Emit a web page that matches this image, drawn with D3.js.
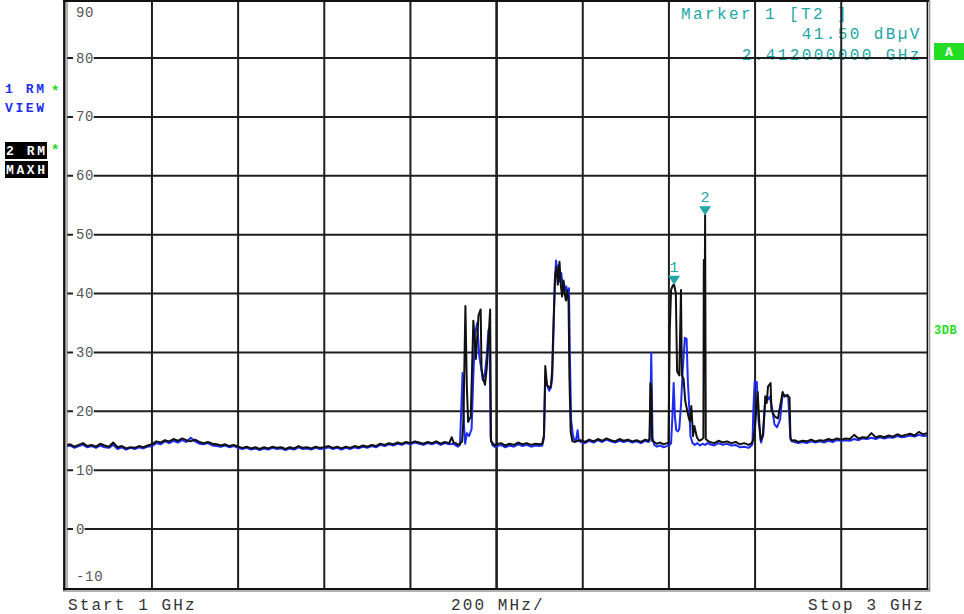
<!DOCTYPE html>
<html><head><meta charset="utf-8">
<script src="https://cdn.jsdelivr.net/npm/d3@7"></script>
<style>
html,body{margin:0;padding:0;background:#fff;}
svg{display:block;}
</style></head><body>
<svg id="chart" width="964" height="614"></svg>
<script>
// ---------- DATA ----------
const yTicks = [90, 80, 70, 60, 50, 40, 30, 20, 10, 0, -10];
const freqTicks = [1000, 1200, 1400, 1600, 1800, 2000, 2200, 2400, 2600, 2800, 3000];
const footerLabels = ["Start 1 GHz", "200 MHz/", "Stop 3 GHz"];
const markerInfo = ["Marker 1 [T2 ]", "41.50 dBµV", "2.412000000 GHz"];
const markers = [
  {id: "1", freq: 2412, level: 41.5},
  {id: "2", freq: 2484, level: 53.3}
];
// Trace 1 (RM, VIEW) – blue : [MHz, dBµV]
const trace1 = [
[1000,14.0],[1010,14.2],[1020,13.8],[1030,14.1],[1040,14.3],[1050,13.9],[1060,14.1],[1070,13.8],[1080,14.2],[1090,13.9],
[1100,13.8],[1110,14.3],[1120,13.6],[1130,13.9],[1140,13.5],[1150,13.8],[1160,13.6],[1170,13.9],[1180,13.7],[1190,14.0],
[1200,14.1],[1210,14.6],[1220,14.4],[1230,14.9],[1240,14.6],[1250,15.0],[1260,14.7],[1270,15.1],[1280,14.8],[1290,15.5],
[1300,14.9],[1310,14.5],[1320,14.4],[1330,14.6],[1340,14.2],[1350,14.1],[1360,14.0],[1370,14.2],[1380,13.9],[1390,14.1],
[1400,13.8],[1410,13.6],[1420,13.8],[1430,13.5],[1440,13.7],[1450,13.4],[1460,13.7],[1470,13.5],[1480,13.8],[1490,13.6],
[1500,13.7],[1510,13.4],[1520,13.7],[1530,13.5],[1540,13.9],[1550,13.6],[1560,13.7],[1570,13.5],[1580,13.8],[1590,13.6],
[1600,13.7],[1610,13.9],[1620,13.6],[1630,13.8],[1640,13.5],[1650,13.8],[1660,13.6],[1670,13.9],[1680,13.7],[1690,14.0],
[1700,13.8],[1710,14.1],[1720,13.9],[1730,14.3],[1740,14.1],[1750,14.4],[1760,14.2],[1770,14.5],[1780,14.3],[1790,14.6],
[1800,14.4],[1810,14.7],[1820,14.5],[1830,14.3],[1840,14.6],[1850,14.4],[1860,14.7],[1870,14.3],[1880,14.6],[1890,14.4],
[1900,14.5],[1905,14.2],[1910,14.0],[1915,14.3],[1918,20.5],[1921,26.5],[1924,18.0],[1927,14.5],[1931,16.3],[1936,15.8],
[1942,17.0],[1946,26.0],[1950,33.3],[1955,35.0],[1960,29.3],[1964,27.5],[1968,25.3],[1973,26.5],[1977,29.3],[1981,33.8],
[1984,30.0],[1986,15.6],[1990,14.3],[1995,14.0],
[2000,14.0],[2010,14.3],[2020,13.9],[2030,14.2],[2040,14.0],[2050,14.4],[2060,14.1],[2070,14.3],[2080,14.0],[2090,14.2],[2100,14.1],
[2106,14.2],[2110,15.5],[2113,25.8],[2117,24.5],[2122,23.5],[2126,24.0],[2129,25.5],[2132,33.0],[2135,42.0],[2138,45.6],
[2141,43.5],[2144,44.8],[2147,42.0],[2150,43.5],[2153,41.5],[2156,42.0],[2159,40.5],[2162,41.2],[2165,39.8],[2168,40.9],
[2170,30.0],[2173,18.5],[2177,16.0],[2181,15.0],[2185,15.3],[2188,16.8],[2191,15.0],
[2195,14.8],[2205,14.6],[2215,15.0],[2225,14.7],[2235,15.1],[2245,14.8],[2255,15.2],[2265,14.9],[2275,14.7],[2285,15.0],
[2295,14.8],[2305,15.0],[2315,14.7],[2325,14.9],[2335,14.6],[2345,15.0],[2352,14.8],
[2355,14.9],[2357,20.0],[2359,29.9],[2362,15.5],[2366,14.3],[2372,14.0],[2380,14.2],[2388,13.9],[2395,14.1],[2399,14.2],
[2402,14.3],[2405,14.6],[2408,19.0],[2411,24.8],[2414,19.0],[2417,16.8],[2421,16.6],[2424,17.0],[2428,21.0],[2432,27.0],
[2437,32.5],[2441,32.3],[2444,25.0],[2447,21.0],[2450,15.8],[2455,14.6],[2460,14.3],[2466,14.6],[2472,14.2],[2478,14.5],
[2484,14.3],[2490,14.6],
[2495,14.4],[2505,14.2],[2515,14.6],[2525,14.3],[2535,14.5],[2545,14.2],[2555,14.3],[2565,13.9],[2575,14.0],[2585,13.8],[2592,14.2],
[2594,14.5],[2596,20.3],[2599,25.0],[2604,25.0],[2608,18.5],[2614,14.7],[2619,16.0],[2624,22.5],[2630,22.0],[2634,22.5],
[2640,20.3],[2645,17.8],[2651,17.3],[2658,18.6],[2664,23.0],[2669,22.7],[2677,22.4],[2682,15.3],[2685,14.9],
[2692,14.8],[2700,14.6],[2710,14.8],[2720,14.6],[2730,14.9],[2740,14.7],[2750,14.9],[2760,14.7],[2770,15.0],[2780,14.8],
[2790,15.1],[2800,15.0],[2810,15.1],[2820,15.0],[2830,15.3],[2840,15.1],[2850,15.4],[2860,15.3],[2870,15.5],[2880,15.3],
[2890,15.6],[2900,15.4],[2910,15.6],[2920,15.5],[2930,15.8],[2940,15.6],[2950,15.7],[2960,15.9],[2970,15.7],[2980,16.0],
[2990,15.8],[3000,15.9]
];
// Trace 2 (RM, MAXH) – black : [MHz, dBµV]
const trace2 = [
[1000,14.2],[1010,14.4],[1020,14.0],[1030,14.3],[1040,14.6],[1050,14.1],[1060,14.3],[1070,14.0],[1080,14.5],[1090,14.2],
[1100,14.0],[1110,14.7],[1120,13.9],[1130,14.1],[1140,13.7],[1150,13.9],[1160,13.8],[1170,14.1],[1180,13.9],[1190,14.2],
[1200,14.4],[1210,14.9],[1220,14.7],[1230,15.1],[1240,14.9],[1250,15.3],[1260,15.0],[1270,15.4],[1280,15.1],[1290,14.9],
[1300,15.2],[1310,14.8],[1320,14.6],[1330,14.8],[1340,14.5],[1350,14.4],[1360,14.2],[1370,14.4],[1380,14.1],[1390,14.3],
[1400,14.0],[1410,13.8],[1420,14.0],[1430,13.7],[1440,13.9],[1450,13.6],[1460,13.9],[1470,13.7],[1480,14.0],[1490,13.8],
[1500,13.9],[1510,13.6],[1520,13.9],[1530,13.7],[1540,14.1],[1550,13.8],[1560,13.9],[1570,13.7],[1580,14.0],[1590,13.8],
[1600,13.9],[1610,14.1],[1620,13.8],[1630,14.0],[1640,13.7],[1650,14.0],[1660,13.8],[1670,14.1],[1680,13.9],[1690,14.2],
[1700,14.0],[1710,14.3],[1720,14.1],[1730,14.5],[1740,14.3],[1750,14.6],[1760,14.4],[1770,14.7],[1780,14.5],[1790,14.8],
[1800,14.6],[1810,14.9],[1820,14.7],[1830,14.5],[1840,14.8],[1850,14.6],[1860,14.9],[1870,14.5],[1880,14.8],[1890,14.6],
[1896,15.6],[1900,14.7],[1905,14.6],[1910,14.3],[1915,14.5],[1920,14.9],[1923,18.5],[1927.6,37.9],[1931,24.0],[1934,18.2],
[1940,19.1],[1943,27.0],[1946,35.4],[1952,28.9],[1958,36.3],[1963,37.3],[1965,27.2],[1969,25.5],[1973,24.5],[1977,27.2],
[1981,32.0],[1985,37.3],[1987,14.9],[1991,14.6],[1996,14.2],
[2000,14.4],[2010,14.6],[2020,14.2],[2030,14.5],[2040,14.3],[2050,14.7],[2060,14.4],[2070,14.6],[2080,14.3],[2090,14.5],[2100,14.4],
[2106,14.5],[2110,16.0],[2113,27.7],[2117,24.5],[2122,24.0],[2126,24.3],[2129,27.0],[2132,34.8],[2136,43.0],[2139,44.5],
[2142,41.5],[2146,45.4],[2149,41.5],[2152,39.5],[2155,42.2],[2158,40.0],[2161,38.8],[2164,40.5],[2167,38.6],[2169,26.0],
[2172,16.5],[2176,14.9],[2182,14.8],[2188,15.0],
[2195,15.1],[2205,14.8],[2215,15.2],[2225,14.9],[2235,15.3],[2245,15.0],[2255,15.4],[2265,15.1],[2275,14.9],[2285,15.3],
[2295,15.0],[2305,15.2],[2315,14.9],[2325,15.1],[2335,14.8],[2345,15.2],[2352,15.0],
[2355,15.3],[2357,24.8],[2359,24.0],[2361,15.0],[2366,14.8],[2372,14.5],[2380,14.7],[2388,14.4],[2395,14.6],[2399,14.5],
[2402,33.8],[2405,40.6],[2409,41.4],[2412,41.5],[2416,40.1],[2419,26.8],[2424,26.1],[2428,40.6],[2430,26.1],[2434,25.5],
[2438,21.7],[2446,18.9],[2449,18.3],[2452,20.9],[2456,15.8],[2459,17.5],[2465,15.6],[2470,15.0],[2476,15.2],[2480,15.5],
[2481,45.7],[2482.5,28.0],[2484,53.3],[2485.5,15.3],[2490,15.0],
[2495,14.8],[2505,14.6],[2515,15.0],[2525,14.7],[2535,14.9],[2545,14.6],[2555,14.8],[2565,14.4],[2575,14.6],[2585,14.3],[2592,14.6],
[2596,15.2],[2600,17.5],[2603,20.4],[2606,23.3],[2610,17.8],[2613,15.1],[2618,16.0],[2624,22.5],[2627,21.4],[2630,24.2],
[2636,24.8],[2638,20.2],[2646,19.1],[2653,18.8],[2658,20.8],[2664,23.3],[2668,22.5],[2675,22.8],[2680,22.3],[2682,15.6],[2685,15.0],
[2692,15.1],[2700,14.8],[2710,15.0],[2720,14.9],[2730,15.2],[2740,14.9],[2750,15.1],[2760,15.0],[2770,15.3],[2780,15.1],
[2790,15.4],[2800,15.2],[2810,15.4],[2820,15.3],[2830,16.0],[2840,15.4],[2850,15.6],[2860,15.5],[2870,16.3],[2880,15.6],
[2890,15.8],[2900,15.6],[2910,15.9],[2920,15.7],[2930,16.1],[2940,15.8],[2950,16.0],[2960,16.2],[2970,15.9],[2980,16.5],
[2990,16.1],[3000,16.3]
];

// ---------- DRAW ----------
(function () {
const svg = d3.select("#chart");
const MONO = "'Liberation Mono','DejaVu Sans Mono',monospace";
const TEAL = "#22a6a6", GREEN = "#22dd22", BLUE = "#1c2cf4";

const x = d3.scaleLinear().domain([1000, 3000]).range([65.8, 927.4]);
const y = d3.scaleLinear().domain([-10, 90]).range([588, -0.9]);
const pL = 67, pR = x(3000), pT = 1, pB = 588;

// marker info text (under the grid)
const info = svg.append("g").attr("font-family", MONO).attr("font-size", 16)
  .attr("fill", TEAL).attr("letter-spacing", 2.4);
info.append("text").attr("x", 681).attr("y", 18.5).text(markerInfo[0]);
info.append("text").attr("x", 801.7).attr("y", 38.5).text(markerInfo[1]);
info.append("text").attr("x", 741.7).attr("y", 59.5).text(markerInfo[2]);

// grid
const grid = svg.append("g").attr("stroke", "#1e1e1e");
grid.selectAll("line.v").data(freqTicks.slice(1, -1)).join("line")
  .attr("x1", d => x(d)).attr("x2", d => x(d)).attr("y1", pT).attr("y2", pB)
  .attr("stroke-width", d => d === 2000 ? 2.6 : 2);
grid.selectAll("line.h").data(yTicks.filter(d => d > -10 && d < 90)).join("line")
  .attr("x1", pL).attr("x2", pR).attr("y1", d => y(d)).attr("y2", d => y(d))
  .attr("stroke-width", 2);

// y labels
const yl = svg.append("g").attr("font-family", MONO).attr("font-size", 14)
  .attr("fill", "#555").attr("letter-spacing", 0.7);
yTicks.forEach(v => {
  let cy = y(v);
  if (v === 90) cy = 12;
  if (v === -10) cy = 576;
  const t = yl.append("text").attr("x", 76).attr("y", cy + 4.6).text(v < 0 ? "-" + Math.abs(v) : v);
  if (v < 90 && v > -10) {
    const w = t.node().getComputedTextLength();
    yl.insert("rect", "text").attr("x", 73).attr("y", cy - 3).attr("width", w + 2.5).attr("height", 6).attr("fill", "#fff");
  }
});

// traces
svg.append("clipPath").attr("id", "plotclip").append("rect")
  .attr("x", pL).attr("y", pT).attr("width", pR - pL).attr("height", pB - pT);
const line = d3.line().x(d => x(d[0])).y(d => y(d[1]));
const traces = svg.append("g").attr("clip-path", "url(#plotclip)");
traces.append("path").datum(trace1).attr("d", line).attr("fill", "none")
  .attr("stroke", BLUE).attr("stroke-width", 2).attr("stroke-linejoin", "round");
traces.append("path").datum(trace2).attr("d", line).attr("fill", "none")
  .attr("stroke", "#111").attr("stroke-width", 2).attr("stroke-linejoin", "round");

// frame
const fr = svg.append("g");
fr.append("line").attr("x1", 64.3).attr("x2", 64.3).attr("y1", 0).attr("y2", 591).attr("stroke", "#111").attr("stroke-width", 2.4);
fr.append("line").attr("x1", 67).attr("x2", 67).attr("y1", 1).attr("y2", 589).attr("stroke", "#666").attr("stroke-width", 1);
fr.append("line").attr("x1", 63).attr("x2", pR + 2).attr("y1", 1).attr("y2", 1).attr("stroke", "#111").attr("stroke-width", 2);
fr.append("line").attr("x1", 63).attr("x2", pR + 1).attr("y1", 589).attr("y2", 589).attr("stroke", "#111").attr("stroke-width", 2);
fr.append("line").attr("x1", 63).attr("x2", pR + 3).attr("y1", 591).attr("y2", 591).attr("stroke", "#999").attr("stroke-width", 1.4);
fr.append("line").attr("x1", pR).attr("x2", pR).attr("y1", 0).attr("y2", 590).attr("stroke", "#111").attr("stroke-width", 1.6);
fr.append("line").attr("x1", pR + 2.2).attr("x2", pR + 2.2).attr("y1", 0).attr("y2", 591).attr("stroke", "#999").attr("stroke-width", 1.4);

// markers
const mk = svg.append("g");
markers.forEach(m => {
  const mx = x(m.freq), my = y(m.level);
  mk.append("path").attr("d", `M${mx - 6},${my - 9}L${mx + 6},${my - 9}L${mx},${my}Z`).attr("fill", TEAL);
  mk.append("text").attr("x", mx).attr("y", my - 13).attr("text-anchor", "middle")
    .attr("font-family", MONO).attr("font-size", 15).attr("fill", TEAL).text(m.id);
});

// footer
const ft = svg.append("g").attr("font-family", MONO).attr("font-size", 16).attr("fill", "#333").attr("letter-spacing", 2.1);
ft.append("text").attr("x", 68).attr("y", 610).text(footerLabels[0]);
ft.append("text").attr("x", 451).attr("y", 610).text(footerLabels[1]);
ft.append("text").attr("x", 808).attr("y", 610).text(footerLabels[2]);

// left trace labels
const lb = svg.append("g").attr("font-family", MONO).attr("font-size", 13).attr("font-weight", "bold").attr("letter-spacing", 2.6);
lb.append("text").attr("x", 5).attr("y", 93).attr("fill", BLUE).text("1 RM");
lb.append("text").attr("x", 5).attr("y", 112).attr("fill", BLUE).text("VIEW");
lb.append("rect").attr("x", 5).attr("y", 142).attr("width", 42).attr("height", 17).attr("fill", "#000");
lb.append("rect").attr("x", 5).attr("y", 161).attr("width", 43).attr("height", 17).attr("fill", "#000");
lb.append("text").attr("x", 6).attr("y", 155).attr("fill", "#fff").text("2 RM");
lb.append("text").attr("x", 6).attr("y", 174).attr("fill", "#fff").text("MAXH");
lb.append("text").attr("x", 51).attr("y", 96).attr("fill", GREEN).attr("font-size", 14).text("*");
lb.append("text").attr("x", 51).attr("y", 155).attr("fill", GREEN).attr("font-size", 14).text("*");

// right side status
svg.append("rect").attr("x", 934).attr("y", 43).attr("width", 30).attr("height", 17).attr("fill", GREEN);
svg.append("text").attr("x", 949).attr("y", 56).attr("text-anchor", "middle").attr("font-family", MONO)
  .attr("font-size", 13).attr("font-weight", "bold").attr("fill", "#fff").text("A");
svg.append("text").attr("x", 934).attr("y", 334).attr("font-family", MONO).attr("font-size", 12)
  .attr("font-weight", "bold").attr("fill", GREEN).attr("letter-spacing", 0.5).text("3DB");
})();
</script>
</body></html>
